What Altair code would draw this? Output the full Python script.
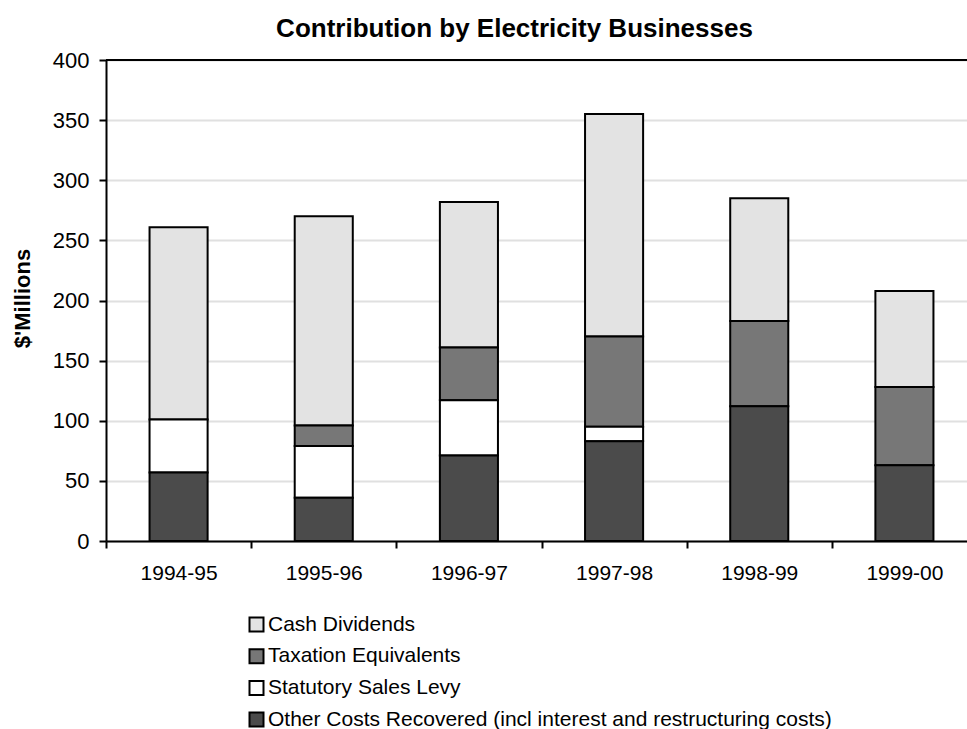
import altair as alt
import pandas as pd

years = ["1994-95", "1995-96", "1996-97", "1997-98", "1998-99", "1999-00"]
series = [
    "Cash Dividends",
    "Taxation Equivalents",
    "Statutory Sales Levy",
    "Other Costs Recovered (incl interest and restructuring costs)",
]
colors = ["#e3e3e3", "#777777", "#ffffff", "#4b4b4b"]
stack_pos = [3, 2, 1, 0]

other_costs = [57, 36, 71, 83, 112, 63]
sales_levy = [44, 43, 46, 12, 0, 0]
taxation = [0, 17, 44, 75, 71, 65]
dividends = [160, 174, 121, 185, 102, 80]

values_by_series = [dividends, taxation, sales_levy, other_costs]

rows = []
for s, vals, pos in zip(series, values_by_series, stack_pos):
    for y, v in zip(years, vals):
        if v > 0:
            rows.append({"year": y, "series": s, "value": v, "pos": pos})
df = pd.DataFrame(rows)

FONT = "Liberation Sans"

bars = alt.Chart(df).mark_bar(
    stroke="black", strokeWidth=2, width=alt.RelativeBandSize(0.4)
).encode(
    x=alt.X(
        "year:N",
        sort=years,
        scale=alt.Scale(range=[0, 871], paddingInner=0, paddingOuter=0),
        axis=alt.Axis(
            title=None,
            tickBand="extent",
            labelAngle=0,
            labelFontSize=21,
            labelFont=FONT,
            labelColor="black",
            labelPadding=14,
            domainColor="black",
            domainWidth=2,
            tickColor="black",
            tickWidth=2,
            tickSize=7,
            grid=False,
        ),
    ),
    y=alt.Y(
        "value:Q",
        stack="zero",
        scale=alt.Scale(domain=[0, 400], nice=False),
        axis=alt.Axis(
            title="$'Millions",
            values=list(range(0, 401, 50)),
            labelFontSize=22,
            labelFont=FONT,
            labelColor="black",
            labelPadding=10,
            titleFont=FONT,
            titleFontSize=22,
            titleFontWeight="bold",
            titleColor="black",
            titleX=-72,
            titleY=238,
            domainColor="black",
            domainWidth=2,
            tickColor="black",
            tickWidth=2,
            tickSize=7,
            grid=True,
            gridColor="#e0e0e0",
            gridWidth=2,
        ),
    ),
    color=alt.Color(
        "series:N",
        scale=alt.Scale(domain=series, range=colors),
        legend=alt.Legend(
            title=None,
            orient="none",
            legendX=140,
            legendY=554,
            direction="vertical",
            symbolType="square",
            symbolSize=196,
            symbolStrokeColor="black",
            symbolStrokeWidth=2,
            symbolOpacity=1,
            labelFont=FONT,
            labelFontSize=21,
            labelColor="black",
            labelLimit=800,
            labelOffset=1,
            rowPadding=8.7,
        ),
    ),
    order=alt.Order("pos:Q", sort="ascending"),
)

top_frame = alt.Chart(pd.DataFrame({"v": [400]})).mark_rule(
    color="black", strokeWidth=2
).encode(y="v:Q")

chart = alt.layer(top_frame, bars).properties(
    width=861,
    height=481,
    autosize=alt.AutoSizeParams(type="none"),
    padding={"left": 106, "top": 60, "right": 0, "bottom": 188},
    title=alt.TitleParams(
        "Contribution by Electricity Businesses",
        font=FONT,
        fontSize=26,
        fontWeight="bold",
        color="black",
        dx=-22,
        offset=7,
    ),
).configure_view(stroke=None).configure(background="white")

chart.save("out.html", embed_options={"renderer": "svg", "actions": False})
